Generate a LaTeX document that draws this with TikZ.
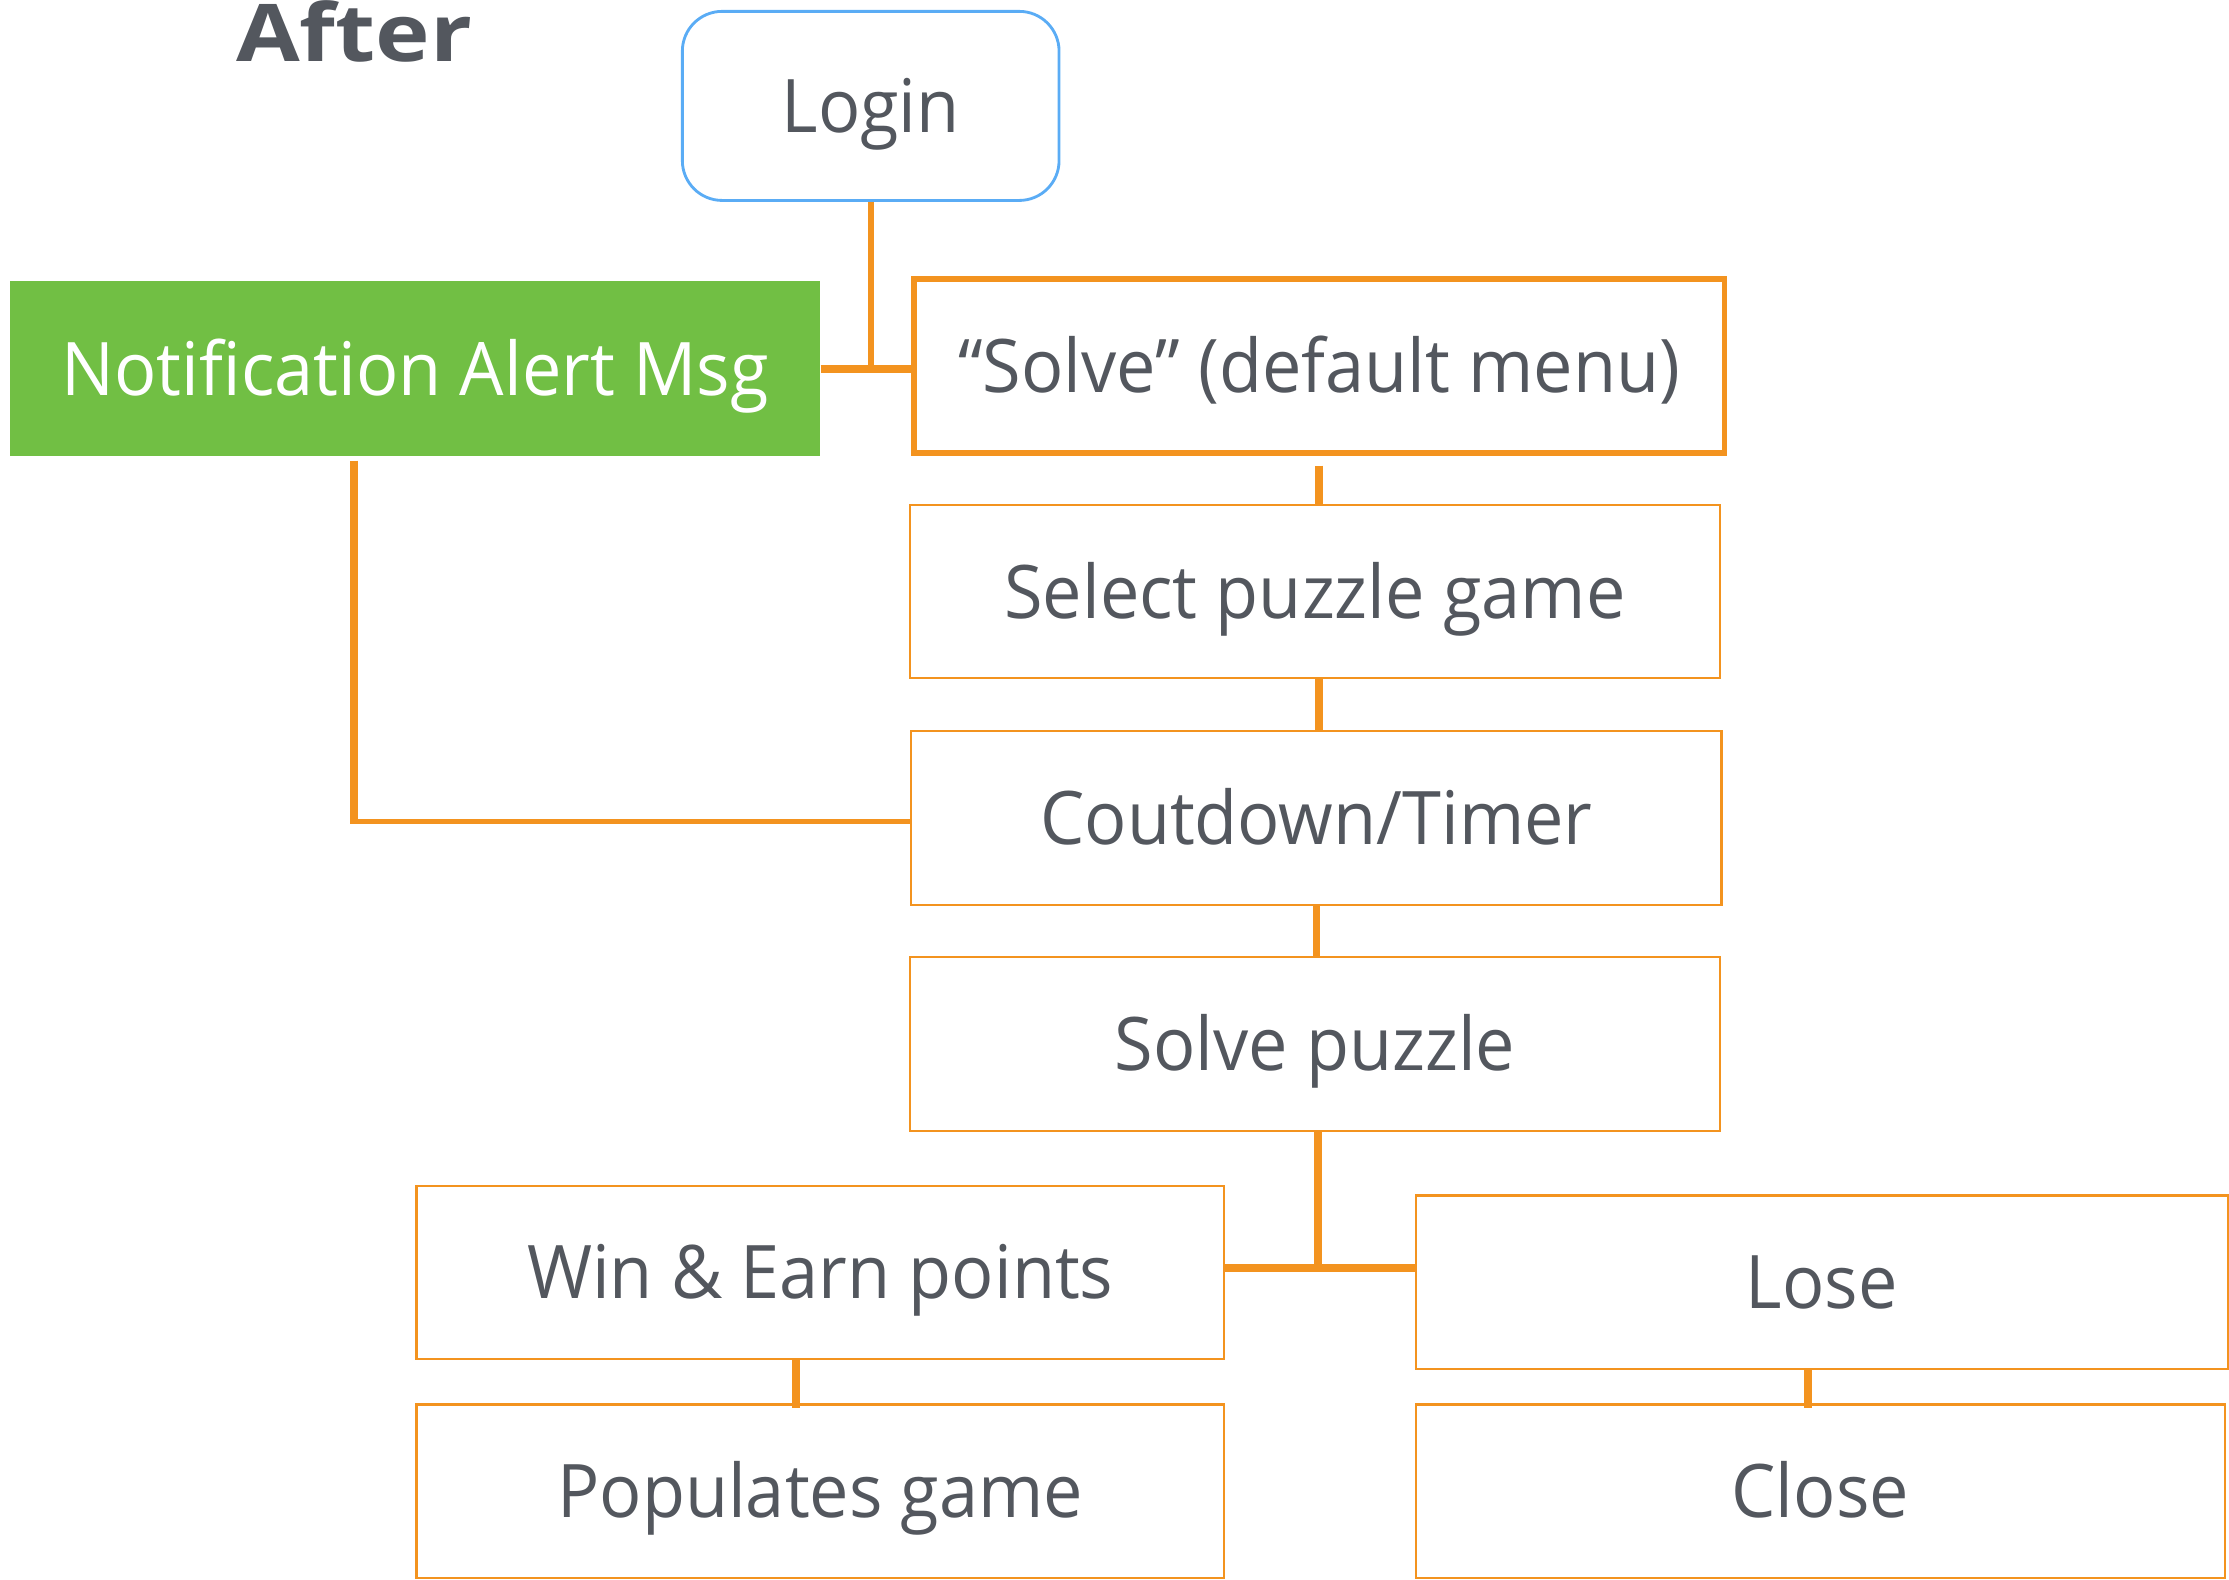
\documentclass[tikz,border=0pt]{standalone}
\usepackage{fontspec}
\setmainfont{Open Sans}[FakeStretch=0.95]
\newfontfamily\titlefont{Open Sans}[FakeStretch=1.16]
\definecolor{orng}{HTML}{F3931F}
\definecolor{txtgray}{HTML}{53575E}
\definecolor{loginblue}{HTML}{5AACF5}
\definecolor{notifgreen}{HTML}{71BF44}
\begin{document}
\begin{tikzpicture}[x=1pt,y=-1pt,
  lbl/.style={font=\fontsize{52}{60}\selectfont, text=txtgray, text height=37.5pt, text depth=0pt, inner sep=0pt},
  box/.style={lbl, draw=orng, line width=1.5pt, minimum width=570pt, minimum height=122pt},
  conn/.style={draw=orng, line width=5.4pt},
  thinconn/.style={draw=orng, line width=3.8pt},
  bar/.style={draw=orng, line width=5.4pt}
]
\useasboundingbox (0,0) rectangle (1568,1111);

\node[font=\titlefont\bfseries\fontsize{56}{66}\selectfont, text=txtgray, anchor=base west, inner sep=0pt] (title) at (166,43) {After};

\node[lbl, draw=loginblue, line width=2pt, rounded corners=28pt, minimum width=265pt, minimum height=133pt] (login) at (612.5,74.5) {Login};
\node[lbl, fill=notifgreen, text=white, minimum width=570pt, minimum height=123pt] (notif) at (292,259.5) {Notification Alert Msg};
\node[box, line width=4pt] (solve) at (928,257.5) {“Solve” (default menu)};
\node[box] (select) at (925,416) {Select puzzle game};
\node[box] (count) at (926,575.5) {Coutdown/Timer};
\node[box] (spuz) at (925,734.5) {Solve puzzle};
\node[box, minimum width=568pt] (win) at (577,895) {Win \& Earn points};
\node[box, minimum width=571pt] (lose) at (1281.5,902) {Lose};
\node[box, minimum width=568pt] (pop) at (577,1049) {Populates game};
\node[box, minimum width=569pt] (close) at (1280.5,1049) {Close};

\coordinate (nb) at (249,324);
\coordinate (nc) at (249,578);
\coordinate (jn) at (927,892);

\draw[draw=orng, line width=4pt] (login.south) -- (login.south |- notif.east);
\draw[bar] (notif.east) -- (notif.east -| solve.west);
\draw[conn] (solve.south) ++(0,7) -- (solve.south |- select.north);
\draw[conn] ([xshift=3pt]select.south) -- ([xshift=3pt]select.south |- count.north);
\draw[conn] (count.south) -- (count.south |- spuz.north);
\draw[conn] (nb) -- ([yshift=-1.9pt]nc);
\draw[thinconn] ([xshift=-2.7pt]nc) -- (nc -| count.west);
\draw[conn] ([xshift=2pt]spuz.south) -- ([xshift=2pt]spuz.south |- jn);
\draw[bar] (win.east |- jn) -- (lose.west |- jn);
\draw[conn] ([xshift=-17pt]win.south) -- ([xshift=-17pt,yshift=-3pt]win.south |- pop.north);
\draw[conn] ([xshift=-9.5pt]lose.south) -- ([xshift=-9.5pt,yshift=-3pt]lose.south |- close.north);
\end{tikzpicture}
\end{document}
